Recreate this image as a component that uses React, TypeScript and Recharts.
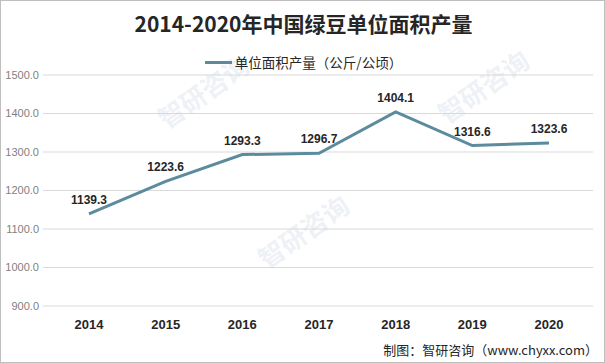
import React from 'react';
import { LineChart, Line, XAxis, YAxis, CartesianGrid, LabelList } from 'recharts';

const YEARS = ['2014', '2015', '2016', '2017', '2018', '2019', '2020'];
const YIELD = [1139.3, 1223.6, 1293.3, 1296.7, 1404.1, 1316.6, 1323.6];
const Y_TICKS = [900, 1000, 1100, 1200, 1300, 1400, 1500];

const TITLE = '2014-2020年中国绿豆单位面积产量';
const SERIES_NAME = '单位面积产量（公斤/公顷）';
const SOURCE = '制图：智研咨询（www.chyxx.com）';

const COLORS = {
  line: '#5B8B9C',
  grid: '#D9D9D9',
  axisText: '#7F7F7F',
  text: '#262626',
  watermark: 'rgba(196, 208, 224, 0.3)',
};

const FONT = '"Liberation Sans", "Noto Sans CJK SC", sans-serif';
const CJK = '"Noto Sans CJK SC", sans-serif';

const data = YEARS.map((year, i) => ({ year, value: YIELD[i] }));

// faint diagonal watermarks like the source image
const WATERMARKS = [
  { left: 150, top: 75 },
  { left: 430, top: 70 },
  { left: 250, top: 215 },
];

export default function App() {
  return (
    <div
      style={{
        position: 'absolute',
        left: 0,
        top: 0,
        width: 605,
        height: 363,
        boxSizing: 'border-box',
        border: '1px solid #BFBFBF',
        background: '#FFFFFF',
        fontFamily: FONT,
        overflow: 'hidden',
      }}
    >
      {WATERMARKS.map((w, i) => (
        <div
          key={i}
          style={{
            position: 'absolute',
            left: w.left,
            top: w.top,
            transform: 'rotate(-35deg)',
            color: COLORS.watermark,
            fontSize: 26,
            fontWeight: 700,
            whiteSpace: 'nowrap',
            fontFamily: CJK,
            lineHeight: '30px',
          }}
        >
          智研咨询
        </div>
      ))}

      <div
        style={{
          position: 'absolute',
          left: 0,
          top: 8,
          width: 605,
          textAlign: 'center',
          fontSize: 21,
          fontWeight: 700,
          color: COLORS.text,
          fontFamily: CJK,
          lineHeight: '28px',
        }}
      >
        {TITLE}
      </div>

      <div
        style={{
          position: 'absolute',
          left: 0,
          top: 51,
          width: 605,
          display: 'flex',
          justifyContent: 'center',
          alignItems: 'center',
          fontSize: 13.5,
          color: COLORS.text,
          fontFamily: CJK,
          lineHeight: '20px',
        }}
      >
        <span style={{ display: 'inline-block', width: 27, height: 3, background: COLORS.line, marginRight: 3 }} />
        {SERIES_NAME}
      </div>

      <div style={{ position: 'absolute', left: 0, top: 0 }}>
        <LineChart width={605} height={363} data={data} margin={{ top: 74, right: 13, bottom: 28, left: 0 }}>
          <CartesianGrid vertical={false} stroke={COLORS.grid} />
          <XAxis
            dataKey="year"
            axisLine={false}
            tickLine={false}
            tickSize={0}
            tickMargin={14}
            height={30}
            padding={{ left: 46, right: 44 }}
            tick={{ fill: COLORS.text, fontSize: 13, fontWeight: 700, fontFamily: FONT }}
          />
          <YAxis
            width={42}
            domain={[900, 1500]}
            ticks={Y_TICKS}
            interval={0}
            axisLine={false}
            tickLine={false}
            tickSize={0}
            tickMargin={4}
            tickFormatter={(v: number) => v.toFixed(1)}
            tick={{ fill: COLORS.axisText, fontSize: 11, fontFamily: FONT }}
          />
          <Line
            type="linear"
            dataKey="value"
            stroke={COLORS.line}
            strokeWidth={3}
            dot={false}
            activeDot={false}
            isAnimationActive={false}
          >
            <LabelList
              dataKey="value"
              position="top"
              offset={10}
              formatter={(v: number) => v.toFixed(1)}
              style={{ fill: COLORS.text, fontSize: 12, fontWeight: 700, fontFamily: FONT }}
            />
          </Line>
        </LineChart>
      </div>

      <div
        style={{
          position: 'absolute',
          right: 6,
          top: 339,
          fontSize: 13,
          color: COLORS.text,
          fontFamily: CJK,
          lineHeight: '20px',
          whiteSpace: 'nowrap',
        }}
      >
        {SOURCE}
      </div>
    </div>
  );
}
